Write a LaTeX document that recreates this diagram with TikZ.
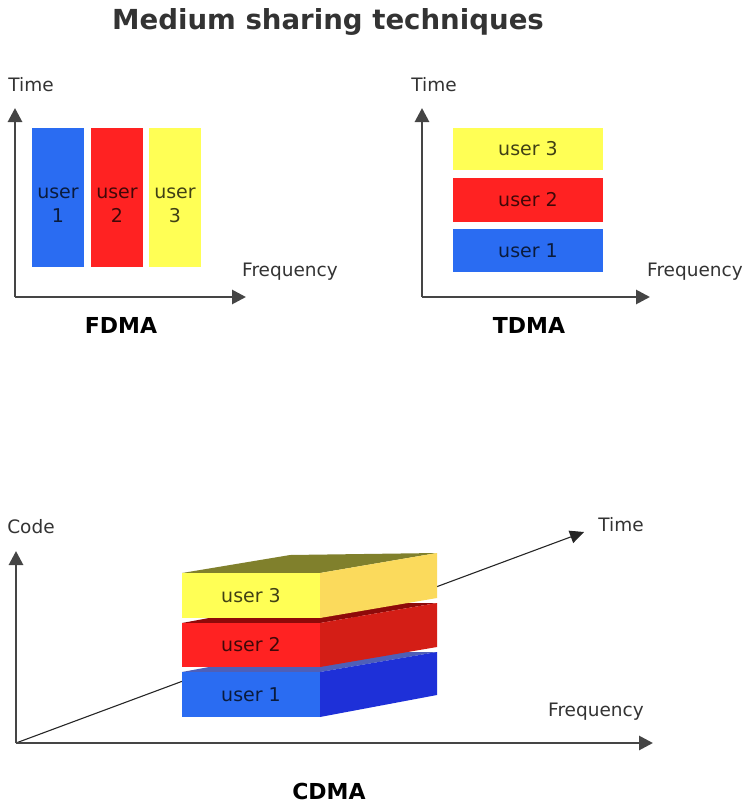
\documentclass[tikz,border=0pt]{standalone}
\usepackage{fontspec}
\setmainfont{DejaVu Sans}
\usetikzlibrary{arrows.meta}
\definecolor{axisgray}{HTML}{454545}
\definecolor{labgray}{HTML}{333333}
\definecolor{ublue}{HTML}{2A6CF2}
\definecolor{ured}{HTML}{FF2222}
\definecolor{uyellow}{HTML}{FFFF55}
\definecolor{sblue}{HTML}{1E30D8}
\definecolor{tblue}{HTML}{4E5FB8}
\definecolor{sred}{HTML}{D41E16}
\definecolor{tred}{HTML}{8E0A0A}
\definecolor{syellow}{HTML}{FBDA5C}
\definecolor{tyellow}{HTML}{80802C}
\tikzset{
  axis/.style={draw=axisgray, line width=2.8pt, -{Triangle[length=14pt,width=14pt]}},
  diag/.style={draw=black!85, line width=1.1pt, -{Triangle[length=14pt,width=13pt]}},
  axlabel/.style={text=labgray, font=\fontsize{18.5}{20}\selectfont, inner sep=0pt},
  scheme/.style={text=black, font=\bfseries\fontsize{22}{24}\selectfont, inner sep=0pt},
  utext/.style={inner sep=0pt, font=\fontsize{19}{24}\selectfont, text=black, text opacity=0.75, align=center}
}
\begin{document}
\begin{tikzpicture}[x=1pt,y=-1pt]
\useasboundingbox (0,0) rectangle (747,806);
\node[text=labgray, font=\bfseries\fontsize{27.6}{30}\selectfont, inner sep=0pt] (title) at (328,22) {Medium sharing techniques};

% ---------- FDMA ----------
\coordinate (fo) at (15,297);
\coordinate (fy) at (15,108);
\coordinate (fx) at (246,297);
\draw[axis] (fo) -- (fy);
\draw[axis] (fo) -- (fx);
\node[axlabel] (ftime) at (31,85) {Time};
\node[axlabel] (ffreq) at (290,272) {Frequency};
\node[scheme] (flab) at (121,325) {FDMA};
\node[fill=ublue, minimum width=52pt, minimum height=139pt, inner sep=0pt] (f1) at (58,197.5) {};
\node[fill=ured, minimum width=52pt, minimum height=139pt, inner sep=0pt] (f2) at (117,197.5) {};
\node[fill=uyellow, minimum width=52pt, minimum height=139pt, inner sep=0pt] (f3) at (175,197.5) {};
\node[utext] (f1t) at (58,205) {user\\1};
\node[utext] (f2t) at (117,205) {user\\2};
\node[utext] (f3t) at (175,205) {user\\3};

% ---------- TDMA ----------
\coordinate (to) at (422,297);
\coordinate (ty) at (422,108);
\coordinate (tx) at (650,297);
\draw[axis] (to) -- (ty);
\draw[axis] (to) -- (tx);
\node[axlabel] (ttime) at (434,85) {Time};
\node[axlabel] (tfreq) at (695,272) {Frequency};
\node[scheme] (tlab) at (529,325) {TDMA};
\node[fill=uyellow, minimum width=150pt, minimum height=42pt, utext] (t3) at (528,149) {user 3};
\node[fill=ured, minimum width=150pt, minimum height=44pt, utext] (t2) at (528,200) {user 2};
\node[fill=ublue, minimum width=150pt, minimum height=43pt, utext] (t1) at (528,250.5) {user 1};

% ---------- CDMA ----------
\coordinate (co) at (16,743);
\coordinate (cy) at (16,551);
\coordinate (cx) at (653,743);
\coordinate (ct) at (584,532);
\draw[diag] (co) -- (ct);
\draw[axis] (co) -- (cy);
\draw[axis] (co) -- (cx);
\node[axlabel] (ccode) at (31,527) {Code};
\node[axlabel] (ctime) at (621,525) {Time};
\node[axlabel] (cfreq) at (596,712) {Frequency};
\node[scheme] (clab) at (329,791) {CDMA};

% blue slab
\fill[tblue] (182,672) -- (320,672) -- (437,652) -- (290,652) -- cycle;
\fill[sblue] (320,672) -- (437,652) -- (437,695) -- (320,717) -- cycle;
\node[fill=ublue, minimum width=138pt, minimum height=45pt, utext] (c1) at (251,694.5) {user 1};
% red slab
\fill[tred] (182,623) -- (320,623) -- (437,603) -- (290,603) -- cycle;
\fill[sred] (320,623) -- (437,603) -- (437,647) -- (320,667) -- cycle;
\node[fill=ured, minimum width=138pt, minimum height=44pt, utext] (c2) at (251,645) {user 2};
% yellow slab
\fill[tyellow] (182,573) -- (320,573) -- (437,553) -- (290,555) -- cycle;
\fill[syellow] (320,573) -- (437,553) -- (437,598) -- (320,618) -- cycle;
\node[fill=uyellow, minimum width=138pt, minimum height=45pt, utext] (c3) at (251,595.5) {user 3};
\end{tikzpicture}
\end{document}
